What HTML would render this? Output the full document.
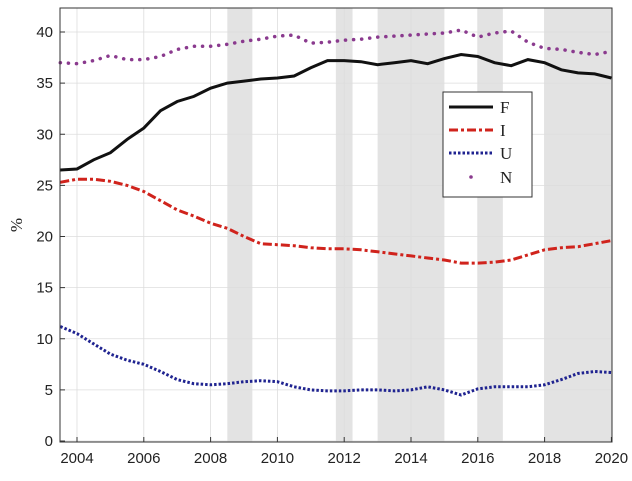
<!DOCTYPE html>
<html><head><meta charset="utf-8"><style>
body{margin:0;background:#fff;}
svg text{font-family:"Liberation Sans",sans-serif;fill:#222;}
</style></head><body>
<svg id="chart" width="632" height="476" xmlns="http://www.w3.org/2000/svg">
<g id="bands"></g>
<g id="grid"></g>
<g id="series"></g>
<rect x="60" y="8" width="552" height="434" fill="none" stroke="#333" stroke-width="1"/>
<g id="axes"></g>
<text transform="translate(22,225) rotate(-90)" text-anchor="middle" font-size="17" style="font-family:'Liberation Serif',serif">%</text>
<g>
<rect x="443" y="92" width="89" height="105" fill="#fff" stroke="#333"/>
<line x1="449" y1="107" x2="493" y2="107" stroke="#111" stroke-width="3"/>
<text x="500" y="113" font-size="17" style="font-family:'Liberation Serif',serif">F</text>
<line x1="449" y1="130" x2="493" y2="130" stroke="#d0231c" stroke-width="3" stroke-dasharray="9,3,3,3"/>
<text x="500" y="136" font-size="17" style="font-family:'Liberation Serif',serif">I</text>
<line x1="449" y1="153" x2="493" y2="153" stroke="#1f2390" stroke-width="3" stroke-dasharray="2.5,2"/>
<text x="500" y="159" font-size="17" style="font-family:'Liberation Serif',serif">U</text>
<circle cx="471" cy="177" r="1.8" fill="#8a3a8e"/>
<text x="500" y="183" font-size="17" style="font-family:'Liberation Serif',serif">N</text>
</g>
</svg>
<script>
const years=[2003.5,2004,2004.5,2005,2005.5,2006,2006.5,2007,2007.5,2008,2008.5,2009,2009.5,2010,2010.5,2011,2011.5,2012,2012.5,2013,2013.5,2014,2014.5,2015,2015.5,2016,2016.5,2017,2017.5,2018,2018.5,2019,2019.5,2020];
const seriesF=[26.5,26.6,27.5,28.2,29.5,30.6,32.3,33.2,33.7,34.5,35.0,35.2,35.4,35.5,35.7,36.5,37.2,37.2,37.1,36.8,37.0,37.2,36.9,37.4,37.8,37.6,37.0,36.7,37.3,37.0,36.3,36.0,35.9,35.5];
const seriesI=[25.3,25.6,25.6,25.4,25.0,24.4,23.5,22.6,22.0,21.3,20.8,20.0,19.3,19.2,19.1,18.9,18.8,18.8,18.7,18.5,18.3,18.1,17.9,17.7,17.4,17.4,17.5,17.7,18.2,18.7,18.9,19.0,19.3,19.6];
const seriesU=[11.2,10.5,9.5,8.5,7.9,7.5,6.8,6.0,5.6,5.5,5.6,5.8,5.9,5.8,5.3,5.0,4.9,4.9,5.0,5.0,4.9,5.0,5.3,5.0,4.5,5.1,5.3,5.3,5.3,5.5,6.0,6.6,6.8,6.7];
const seriesN=[37.0,36.9,37.2,37.7,37.3,37.3,37.6,38.3,38.6,38.6,38.8,39.1,39.3,39.6,39.7,38.9,39.0,39.2,39.3,39.5,39.6,39.7,39.8,39.9,40.2,39.5,39.9,40.1,39.0,38.4,38.3,38.0,37.8,38.1];
const bandStarts=[2008.5,2011.75,2013,2016,2018];
const bandEnds=[2009.25,2012.25,2015,2016.75,2020];
const xTicks=[2004,2006,2008,2010,2012,2014,2016,2018,2020];
const yTicks=[0,5,10,15,20,25,30,35,40];
const NS='http://www.w3.org/2000/svg';
const x=v=>77+(v-2004)*33.4;
const y=v=>441-v*10.225;
function mk(t,a,p){const e=document.createElementNS(NS,t);for(const k in a)e.setAttribute(k,a[k]);p.appendChild(e);return e;}
const bands=document.getElementById('bands'),grid=document.getElementById('grid'),axes=document.getElementById('axes'),ser=document.getElementById('series');
bandStarts.forEach((s,i)=>{const r=mk('rect',{x:x(s),y:8,width:x(bandEnds[i])-x(s),height:434,fill:'#e3e3e3'},bands);

});
xTicks.forEach(t=>{mk('line',{x1:x(t),x2:x(t),y1:8,y2:442,stroke:'#ddd','stroke-width':0.8},grid);
mk('line',{x1:x(t),x2:x(t),y1:442,y2:437,stroke:'#333'},axes);
const tx=mk('text',{x:x(t),y:463,'text-anchor':'middle','font-size':15},axes);tx.textContent=t;

});
yTicks.forEach(t=>{mk('line',{x1:60,x2:612,y1:y(t),y2:y(t),stroke:'#ddd','stroke-width':0.8},grid);
mk('line',{x1:60,x2:65,y1:y(t),y2:y(t),stroke:'#333'},axes);
const tx=mk('text',{x:53,y:y(t)+5,'text-anchor':'end','font-size':15},axes);tx.textContent=t;

});
function pts(vals){return vals.map((v,i)=>x(years[i]).toFixed(1)+','+y(v).toFixed(1)).join(' ');}
const pF=mk('polyline',{points:pts(seriesF),fill:'none',stroke:'#111','stroke-width':3},ser);


const pI=mk('polyline',{points:pts(seriesI),fill:'none',stroke:'#d0231c','stroke-width':3,'stroke-dasharray':'9,3,3,3'},ser);


const pU=mk('polyline',{points:pts(seriesU),fill:'none',stroke:'#1f2390','stroke-width':3,'stroke-dasharray':'2.5,2'},ser);


const pN=mk('polyline',{points:pts(seriesN),fill:'none',stroke:'#8a3a8e','stroke-width':3.5,'stroke-dasharray':'0.1,8','stroke-linecap':'round'},ser);


</script>
</body></html>
